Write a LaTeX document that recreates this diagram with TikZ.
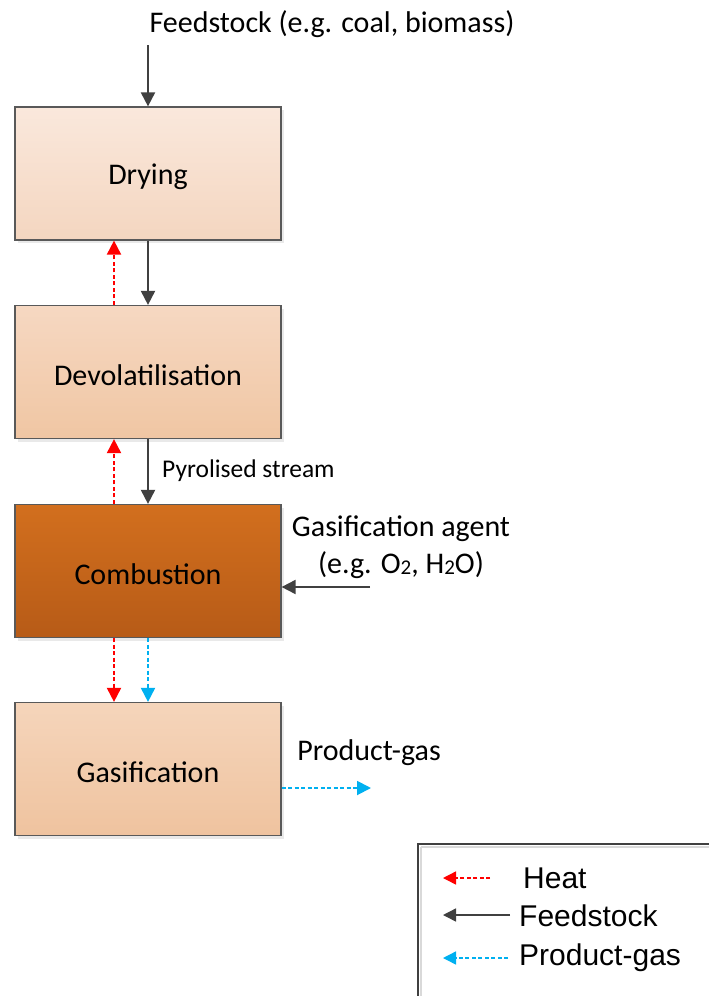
\documentclass[tikz,border=0pt]{standalone}
\usepackage{fontspec}
\setmainfont{Carlito}
\newfontfamily\legfont{Liberation Sans}
\usetikzlibrary{arrows.meta,shadows}
\definecolor{feedc}{HTML}{404040}
\definecolor{heatc}{HTML}{FF0000}
\definecolor{prodc}{HTML}{00B0F0}
\definecolor{boxline}{HTML}{595959}
\definecolor{dryT}{HTML}{FAE8DC}
\definecolor{dryB}{HTML}{F4D6C0}
\definecolor{devT}{HTML}{F6D8C2}
\definecolor{devB}{HTML}{F0C6A3}
\definecolor{comT}{HTML}{D26F1E}
\definecolor{comB}{HTML}{B75B17}
\definecolor{gasT}{HTML}{F5D5BB}
\definecolor{gasB}{HTML}{EFC39F}
\newcommand{\mysub}[1]{\raisebox{-1.5pt}{\fontsize{21}{21}\selectfont #1}}
\newcommand{\stxt}[1]{\raisebox{-3pt}[\height][\depth]{#1}}
\tikzset{
  stage/.style={draw=boxline, line width=1.2pt, minimum width=266pt, minimum height=133pt,
    font=\fontsize{30}{36}\selectfont, inner sep=0pt,
    drop shadow={shadow xshift=3pt, shadow yshift=-3pt, fill=black!12, opacity=0.7}},
  feed/.style={draw=feedc, line width=1.9pt, -{Triangle[length=14pt,width=14pt]}},
  heat/.style={draw=heatc, line width=1.9pt, dash pattern=on 4pt off 2.5pt, -{Triangle[length=14pt,width=14pt]}},
  prod/.style={draw=prodc, line width=1.9pt, dash pattern=on 4pt off 2.5pt, -{Triangle[length=14pt,width=14pt]}},
  lbl/.style={font=\fontsize{30}{36}\selectfont, inner sep=0pt},
  legarrow/.style={line width=1.4pt, -{Triangle[length=13pt,width=13pt]}},
  leg/.style={font=\legfont\fontsize{30}{36}\selectfont, inner sep=0pt, anchor=west}
}
\begin{document}
\begin{tikzpicture}[x=1pt,y=-1pt]
\useasboundingbox (0,0) rectangle (709,996);
\fill[white] (0,0) rectangle (709,996);
% stages
\node[stage, top color=dryT, bottom color=dryB] (dry) at (148,173.5) {\stxt{Drying}};
\node[stage, top color=devT, bottom color=devB] (dev) at (148,372) {\stxt{Devolatilisation}};
\node[stage, top color=comT, bottom color=comB] (comb) at (148,571) {\stxt{Combustion}};
\node[stage, top color=gasT, bottom color=gasB] (gas) at (148,769) {\stxt{Gasification}};
% labels
\node[lbl] (fsl) at (332,24) {Feedstock (e.g. coal, biomass)};
\node[lbl, font=\fontsize{25.5}{30}\selectfont, anchor=west] (pyr) at (162,471) {Pyrolised stream};
\node[lbl] (gal1) at (401,529) {Gasification agent};
\node[lbl] (gal2) at (401,565) {(e.g. O\mysub{2}, H\mysub{2}O)};
\node[lbl] (pgl) at (369,753) {Product-gas};
% connectors
\coordinate (fs) at (148,45);
\draw[feed] (fs) -- (dry.north);
\draw[feed] (dry.south) -- (dev.north);
\draw[feed] (dev.south) -- (comb.north);
\draw[heat] ([xshift=-34pt]dev.north) -- ([xshift=-34pt]dry.south);
\draw[heat] ([xshift=-34pt]comb.north) -- ([xshift=-34pt]dev.south);
\draw[heat] ([xshift=-34pt]comb.south) -- ([xshift=-34pt]gas.north);
\draw[prod] (comb.south) -- (gas.north);
\coordinate (ga) at (370,587);
\draw[feed] (ga) -- (comb.east |- ga);
\coordinate (pg) at (371,788);
\draw[prod] (gas.east |- pg) -- (pg);
% legend
\draw[black!15, line width=2pt] (420.5,846.5) -- (420.5,1000) (420.5,846.5) -- (720,846.5);
\draw[feedc, line width=2.6pt] (418,1010) -- (418,844) -- (720,844);
\coordinate (h1) at (490,878); \coordinate (h0) at (443,878);
\coordinate (f1) at (510,915); \coordinate (f0) at (443,915);
\coordinate (p1) at (508,958); \coordinate (p0) at (443,958);
\draw[heat, legarrow] (h1) -- (h0);
\draw[feed, legarrow] (f1) -- (f0);
\draw[prod, legarrow] (p1) -- (p0);
\node[leg] (lh) at (523,878) {Heat};
\node[leg] (lf) at (519,916) {Feedstock};
\node[leg] (lp) at (519,958) {Product-gas};
\end{tikzpicture}
\end{document}
